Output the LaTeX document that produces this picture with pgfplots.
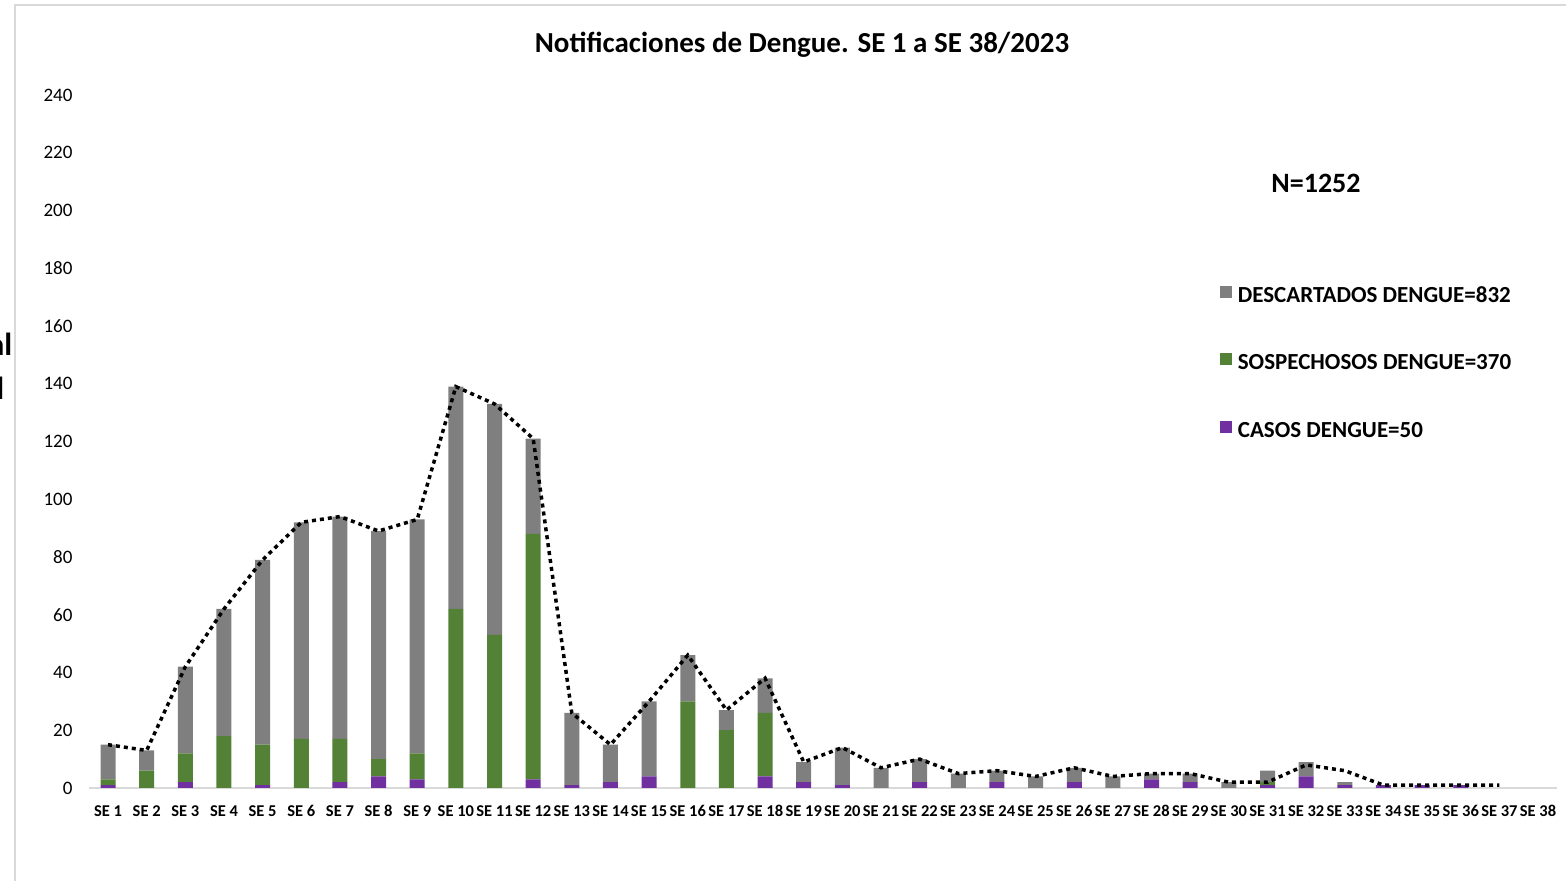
\documentclass[border=0pt]{standalone}
\usepackage{pgfplots}
\usepackage{pgfplotstable}
\pgfplotsset{compat=1.18}
\usepackage{fontspec}
\setmainfont{Carlito}
\definecolor{cgray}{HTML}{7F7F7F}
\definecolor{cgreen}{HTML}{538135}
\definecolor{cpurple}{HTML}{7030A0}
\pgfplotstableread{
x purple green gray
1 1 2 12
2 0 6 7
3 2 10 30
4 0 18 44
5 1 14 64
6 0 17 75
7 2 15 77
8 4 6 79
9 3 9 81
10 0 62 77
11 0 53 80
12 3 85 33
13 1 0 25
14 2 0 13
15 4 0 26
16 0 30 16
17 0 20 7
18 4 22 12
19 2 0 7
20 1 0 13
21 0 0 7
22 2 0 8
23 0 0 5
24 2 0 4
25 0 0 4
26 2 0 5
27 0 0 4
28 3 0 2
29 2 0 3
30 0 0 2
31 1 1 4
32 4 0 5
33 1 0 1
34 1 0 0
35 1 0 0
36 1 0 0
37 0 0 0
38 0 0 0
}\bars
\pgfplotstableread{
x total
1 15
2 13
3 42
4 62
5 79
6 92
7 94
8 89
9 93
10 139
11 133
12 121
13 26
14 15
15 30
16 46
17 27
18 38
19 9
20 14
21 7
22 10
23 5
24 6
25 4
26 7
27 4
28 5
29 5
30 2
31 2
32 8
33 6
34 1
35 1
36 1
37 1
}\linedata
\begin{document}
\begin{tikzpicture}[x=1pt,y=1pt]
\useasboundingbox (0,0) rectangle (1566,881);
\begin{scope}
\clip (0,0) rectangle (1566,881);
\draw[gray!30, line width=1.5pt] (15,0) -- (15,876) -- (1566,876);
\node[anchor=base east, font=\fontsize{32}{32}\selectfont\bfseries, inner sep=0pt] at (12.5,525) {Total};
\node[anchor=base east, font=\fontsize{32}{32}\selectfont\bfseries, inner sep=0pt] at (4.5,481) {Semanal};
\end{scope}
\node[font=\fontsize{29}{29}\selectfont\bfseries] at (802,836) {Notificaciones de Dengue. SE 1 a SE 38/2023};
\node[font=\fontsize{28}{28}\selectfont\bfseries] at (1316,698) {N=1252};
\begin{axis}[
  at={(88.7pt,93pt)}, anchor=south west,
  scale only axis, width=1468.7pt, height=693pt,
  ybar stacked, bar width=15pt,
  xmin=0.5, xmax=38.5, ymin=0, ymax=240,
  xtick={1,...,38},
  xticklabels={SE 1,SE 2,SE 3,SE 4,SE 5,SE 6,SE 7,SE 8,SE 9,SE 10,SE 11,SE 12,SE 13,SE 14,SE 15,SE 16,SE 17,SE 18,SE 19,SE 20,SE 21,SE 22,SE 23,SE 24,SE 25,SE 26,SE 27,SE 28,SE 29,SE 30,SE 31,SE 32,SE 33,SE 34,SE 35,SE 36,SE 37,SE 38},
  ytick={0,20,...,240},
  axis x line*=bottom, axis y line*=left,
  x axis line style={draw=gray!30, line width=2pt},
  y axis line style={draw=none},
  major tick length=0pt, tick style={draw=none},
  /pgf/number format/assume math mode=true,
  yticklabel style={font=\fontsize{19}{19}\selectfont, anchor=east, inner sep=0pt, xshift=-16pt},
  xticklabel style={font=\fontsize{16.5}{16.5}\selectfont\bfseries, anchor=north, inner sep=0pt, yshift=-17pt},
  legend style={at={(0.768,0.728)}, anchor=north west, draw=none, fill=none,
    font=\fontsize{23}{23}\selectfont\bfseries, row sep=46pt, column sep=6pt,
    nodes={inner sep=0pt, text height=16pt, text depth=5pt}},
  legend cell align=left,
  reverse legend,
  legend image code/.code={\fill[#1,draw=none] (0pt,-1pt) rectangle (12pt,11pt);},
]
\addplot[fill=cpurple, draw=none] table[x=x, y=purple] {\bars};
\addplot[fill=cgreen, draw=none] table[x=x, y=green] {\bars};
\addplot[fill=cgray, draw=none] table[x=x, y=gray] {\bars};
\legend{CASOS DENGUE=50, SOSPECHOSOS DENGUE=370, DESCARTADOS DENGUE=832}
\end{axis}
\begin{axis}[
  at={(88.7pt,93pt)}, anchor=south west,
  scale only axis, width=1468.7pt, height=693pt,
  xmin=0.5, xmax=38.5, ymin=0, ymax=240,
  hide axis,
]
\addplot[black, line width=3.5pt, dash pattern=on 4pt off 4pt, mark=none] table[x=x, y=total] {\linedata};
\end{axis}
\end{tikzpicture}
\end{document}
